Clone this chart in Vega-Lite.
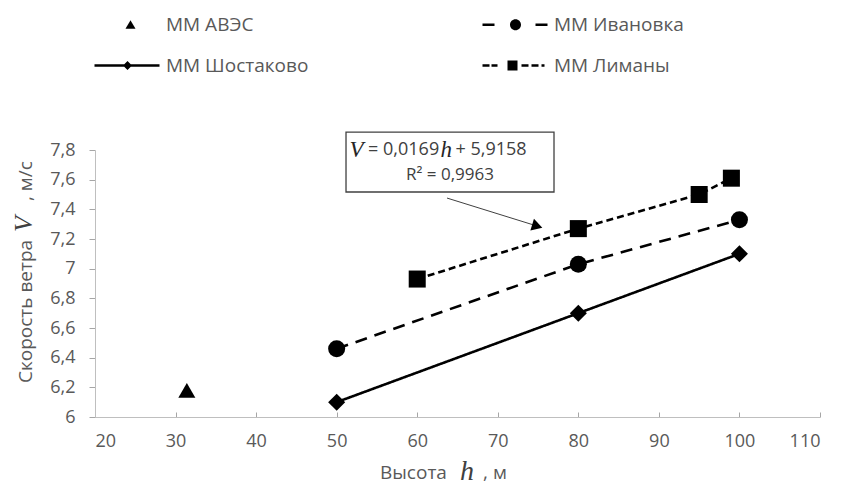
{
  "$schema": "https://vega.github.io/schema/vega-lite/v6.json",
  "width": 725,
  "height": 267,
  "autosize": {"type": "none"},
  "padding": {"left": 95, "top": 150, "right": 21, "bottom": 75},
  "background": "white",
  "config": {
    "view": {"stroke": null},
    "font": "Open Sans",
    "axis": {"grid": false, "ticks": true, "domainColor": "#bfbfbf", "tickColor": "#a6a6a6", "tickWidth": 1, "labelColor": "#595959", "labelFont": "Open Sans", "labelFontSize": 18, "title": null, "labelOverlap": false}
  },
  "data": {"values": [
    {"station": "ММ АВЭС", "h": 31.4, "v": 6.18},
    {"station": "ММ Ивановка", "h": 50, "v": 6.46},
    {"station": "ММ Ивановка", "h": 80, "v": 7.03},
    {"station": "ММ Ивановка", "h": 100, "v": 7.33},
    {"station": "ММ Шостаково", "h": 50, "v": 6.10},
    {"station": "ММ Шостаково", "h": 80, "v": 6.70},
    {"station": "ММ Шостаково", "h": 100, "v": 7.10},
    {"station": "ММ Лиманы", "h": 60, "v": 6.93},
    {"station": "ММ Лиманы", "h": 80, "v": 7.27},
    {"station": "ММ Лиманы", "h": 95, "v": 7.50},
    {"station": "ММ Лиманы", "h": 99, "v": 7.61}
  ]},
  "resolve": {"scale": {"shape": "independent"}, "legend": {"shape": "independent"}},
  "layer": [
    {
      "mark": {"type": "line", "strokeWidth": 2.6, "color": "black"},
      "encoding": {
        "x": {"field": "h", "type": "quantitative", "scale": {"domain": [20, 110], "nice": false, "zero": false},
              "axis": {"values": [20, 30, 40, 50, 60, 70, 80, 90, 100, 110], "tickCount": 30, "tickSize": -5, "labelPadding": 20, "title": null, "labelOverlap": false,
                       "labelExpr": "replace(format(datum.value, '~g'), '.', ',')"}},
        "y": {"field": "v", "type": "quantitative", "scale": {"domain": [6, 7.8], "nice": false, "zero": false},
              "axis": {"values": [6, 6.2, 6.4, 6.6, 6.8, 7, 7.2, 7.4, 7.6, 7.8], "tickCount": 30, "tickSize": 6, "labelPadding": 14, "title": null, "labelOverlap": false,
                       "labelExpr": "replace(format(datum.value, '~g'), '.', ',')"}},
        "strokeDash": {"field": "station", "type": "nominal",
                       "scale": {"range": [[1, 0], [12, 8], [7, 4], [1, 0]]},
                       "legend": null},
        "order": {"field": "h", "type": "quantitative"}
      }
    },
    {
      "mark": {"type": "point", "filled": true, "opacity": 1, "color": "black", "size": 290},
      "encoding": {
        "x": {"field": "h", "type": "quantitative"},
        "y": {"field": "v", "type": "quantitative"},
        "shape": {"field": "station", "type": "nominal",
                  "scale": {"domain": ["ММ АВЭС", "ММ Ивановка", "ММ Шостаково", "ММ Лиманы"], "range": ["triangle-up", "circle", "diamond", "square"]},
                  "legend": null}
      }
    },
    {
      "mark": {"type": "point", "filled": true, "opacity": 0, "color": "black", "size": 4},
      "encoding": {
        "x": {"field": "h", "type": "quantitative"},
        "y": {"field": "v", "type": "quantitative"},
        "shape": {"field": "station", "type": "nominal",
                  "scale": {"domain": ["ММ АВЭС", "ММ Ивановка", "ММ Шостаково", "ММ Лиманы"],
                            "range": [
                              "M26,-4.5L31,4L21,4Z",
                              "M-10,-1.3H2V1.3H-10Z M43,-1.3H55V1.3H43Z M17.5,0A5.5,5.5 0 1,0 28.5,0A5.5,5.5 0 1,0 17.5,0Z",
                              "M-10,-1.3H55V1.3H-10Z M18.5,0L23,-4.5L27.5,0L23,4.5Z",
                              "M-10,-1.3H-3V1.3H-10Z M-1,-1.3H5V1.3H-1Z M15,-5H25V5H15Z M29,-1.3H36V1.3H29Z M39,-1.3H46V1.3H39Z M49,-1.3H52V1.3H49Z"
                            ]},
                  "legend": {
                    "title": null, "orient": "none", "legendX": 0, "legendY": -135, "direction": "horizontal", "columns": 2,
                    "columnPadding": 173, "rowPadding": 21, "symbolSize": 4, "labelOffset": 52, "labelFont": "Open Sans", "labelFontSize": 19,
                    "labelColor": "#595959", "labelLimit": 400, "symbolFillColor": "black", "symbolStrokeColor": "black", "symbolStrokeWidth": 0, "symbolOpacity": 1, "padding": 0,
                    "encode": {"symbols": {"fill": {"value": "black"}, "strokeWidth": {"value": 0}, "opacity": {"value": 1}, "size": {"value": 4}}}
                  }}
      }
    },
    {
      "data": {"values": [{}]},
      "mark": {"type": "rect", "fill": "white", "stroke": "#404040", "strokeWidth": 1.3},
      "encoding": {
        "x": {"datum": 51.16, "type": "quantitative"},
        "x2": {"datum": 76.98},
        "y": {"datum": 7.921, "type": "quantitative"},
        "y2": {"datum": 7.517}
      }
    },
    {
      "data": {"values": [{}]},
      "mark": {"type": "text", "text": "V", "font": "Liberation Serif", "fontStyle": "italic", "fontSize": 23, "color": "#262626", "align": "left", "baseline": "middle"},
      "encoding": {"x": {"datum": 51.6, "type": "quantitative"}, "y": {"datum": 7.8, "type": "quantitative"}}
    },
    {
      "data": {"values": [{}]},
      "mark": {"type": "text", "text": "= 0,0169", "fontSize": 18, "color": "#404040", "align": "left", "baseline": "middle"},
      "encoding": {"x": {"datum": 53.9, "type": "quantitative"}, "y": {"datum": 7.8, "type": "quantitative"}}
    },
    {
      "data": {"values": [{}]},
      "mark": {"type": "text", "text": "h", "font": "Liberation Serif", "fontStyle": "italic", "fontSize": 23, "color": "#262626", "align": "left", "baseline": "middle"},
      "encoding": {"x": {"datum": 62.9, "type": "quantitative"}, "y": {"datum": 7.8, "type": "quantitative"}}
    },
    {
      "data": {"values": [{}]},
      "mark": {"type": "text", "text": "+ 5,9158", "fontSize": 18, "color": "#404040", "align": "left", "baseline": "middle"},
      "encoding": {"x": {"datum": 64.75, "type": "quantitative"}, "y": {"datum": 7.8, "type": "quantitative"}}
    },
    {
      "data": {"values": [{}]},
      "mark": {"type": "text", "text": "R² = 0,9963", "fontSize": 17, "color": "#404040", "align": "center", "baseline": "middle"},
      "encoding": {"x": {"datum": 64.07, "type": "quantitative"}, "y": {"datum": 7.631, "type": "quantitative"}}
    },
    {
      "data": {"values": [{}]},
      "mark": {"type": "rule", "color": "#404040", "strokeWidth": 1},
      "encoding": {
        "x": {"datum": 63.7, "type": "quantitative"},
        "y": {"datum": 7.476, "type": "quantitative"},
        "x2": {"datum": 74.9},
        "y2": {"datum": 7.287}
      }
    },
    {
      "data": {"values": [{}]},
      "mark": {"type": "point", "shape": "triangle-up", "filled": true, "opacity": 1, "color": "black", "size": 150, "angle": 107},
      "encoding": {"x": {"datum": 74.9, "type": "quantitative"}, "y": {"datum": 7.287, "type": "quantitative"}}
    },
    {
      "data": {"values": [{}]},
      "mark": {"type": "text", "text": "Скорость ветра", "fontSize": 19, "color": "#595959", "angle": 270, "align": "left", "baseline": "middle"},
      "encoding": {"x": {"datum": 11.43, "type": "quantitative"}, "y": {"datum": 6.229, "type": "quantitative"}}
    },
    {
      "data": {"values": [{}]},
      "mark": {"type": "text", "text": "V", "font": "Liberation Serif", "fontStyle": "italic", "fontSize": 26, "color": "#404040", "angle": 270, "align": "left", "baseline": "middle"},
      "encoding": {"x": {"datum": 11.2, "type": "quantitative"}, "y": {"datum": 7.247, "type": "quantitative"}}
    },
    {
      "data": {"values": [{}]},
      "mark": {"type": "text", "text": ", м/с", "fontSize": 19, "color": "#595959", "angle": 270, "align": "left", "baseline": "middle"},
      "encoding": {"x": {"datum": 11.43, "type": "quantitative"}, "y": {"datum": 7.456, "type": "quantitative"}}
    },
    {
      "data": {"values": [{}]},
      "mark": {"type": "text", "text": "Высота", "fontSize": 19, "color": "#595959", "align": "left", "baseline": "middle"},
      "encoding": {"x": {"datum": 55.38, "type": "quantitative"}, "y": {"datum": 5.622, "type": "quantitative"}}
    },
    {
      "data": {"values": [{}]},
      "mark": {"type": "text", "text": "h", "font": "Liberation Serif", "fontStyle": "italic", "fontSize": 28, "color": "#404040", "align": "left", "baseline": "middle"},
      "encoding": {"x": {"datum": 65.3, "type": "quantitative"}, "y": {"datum": 5.63, "type": "quantitative"}}
    },
    {
      "data": {"values": [{}]},
      "mark": {"type": "text", "text": ", м", "fontSize": 19, "color": "#595959", "align": "left", "baseline": "middle"},
      "encoding": {"x": {"datum": 68.17, "type": "quantitative"}, "y": {"datum": 5.622, "type": "quantitative"}}
    }
  ]
}
